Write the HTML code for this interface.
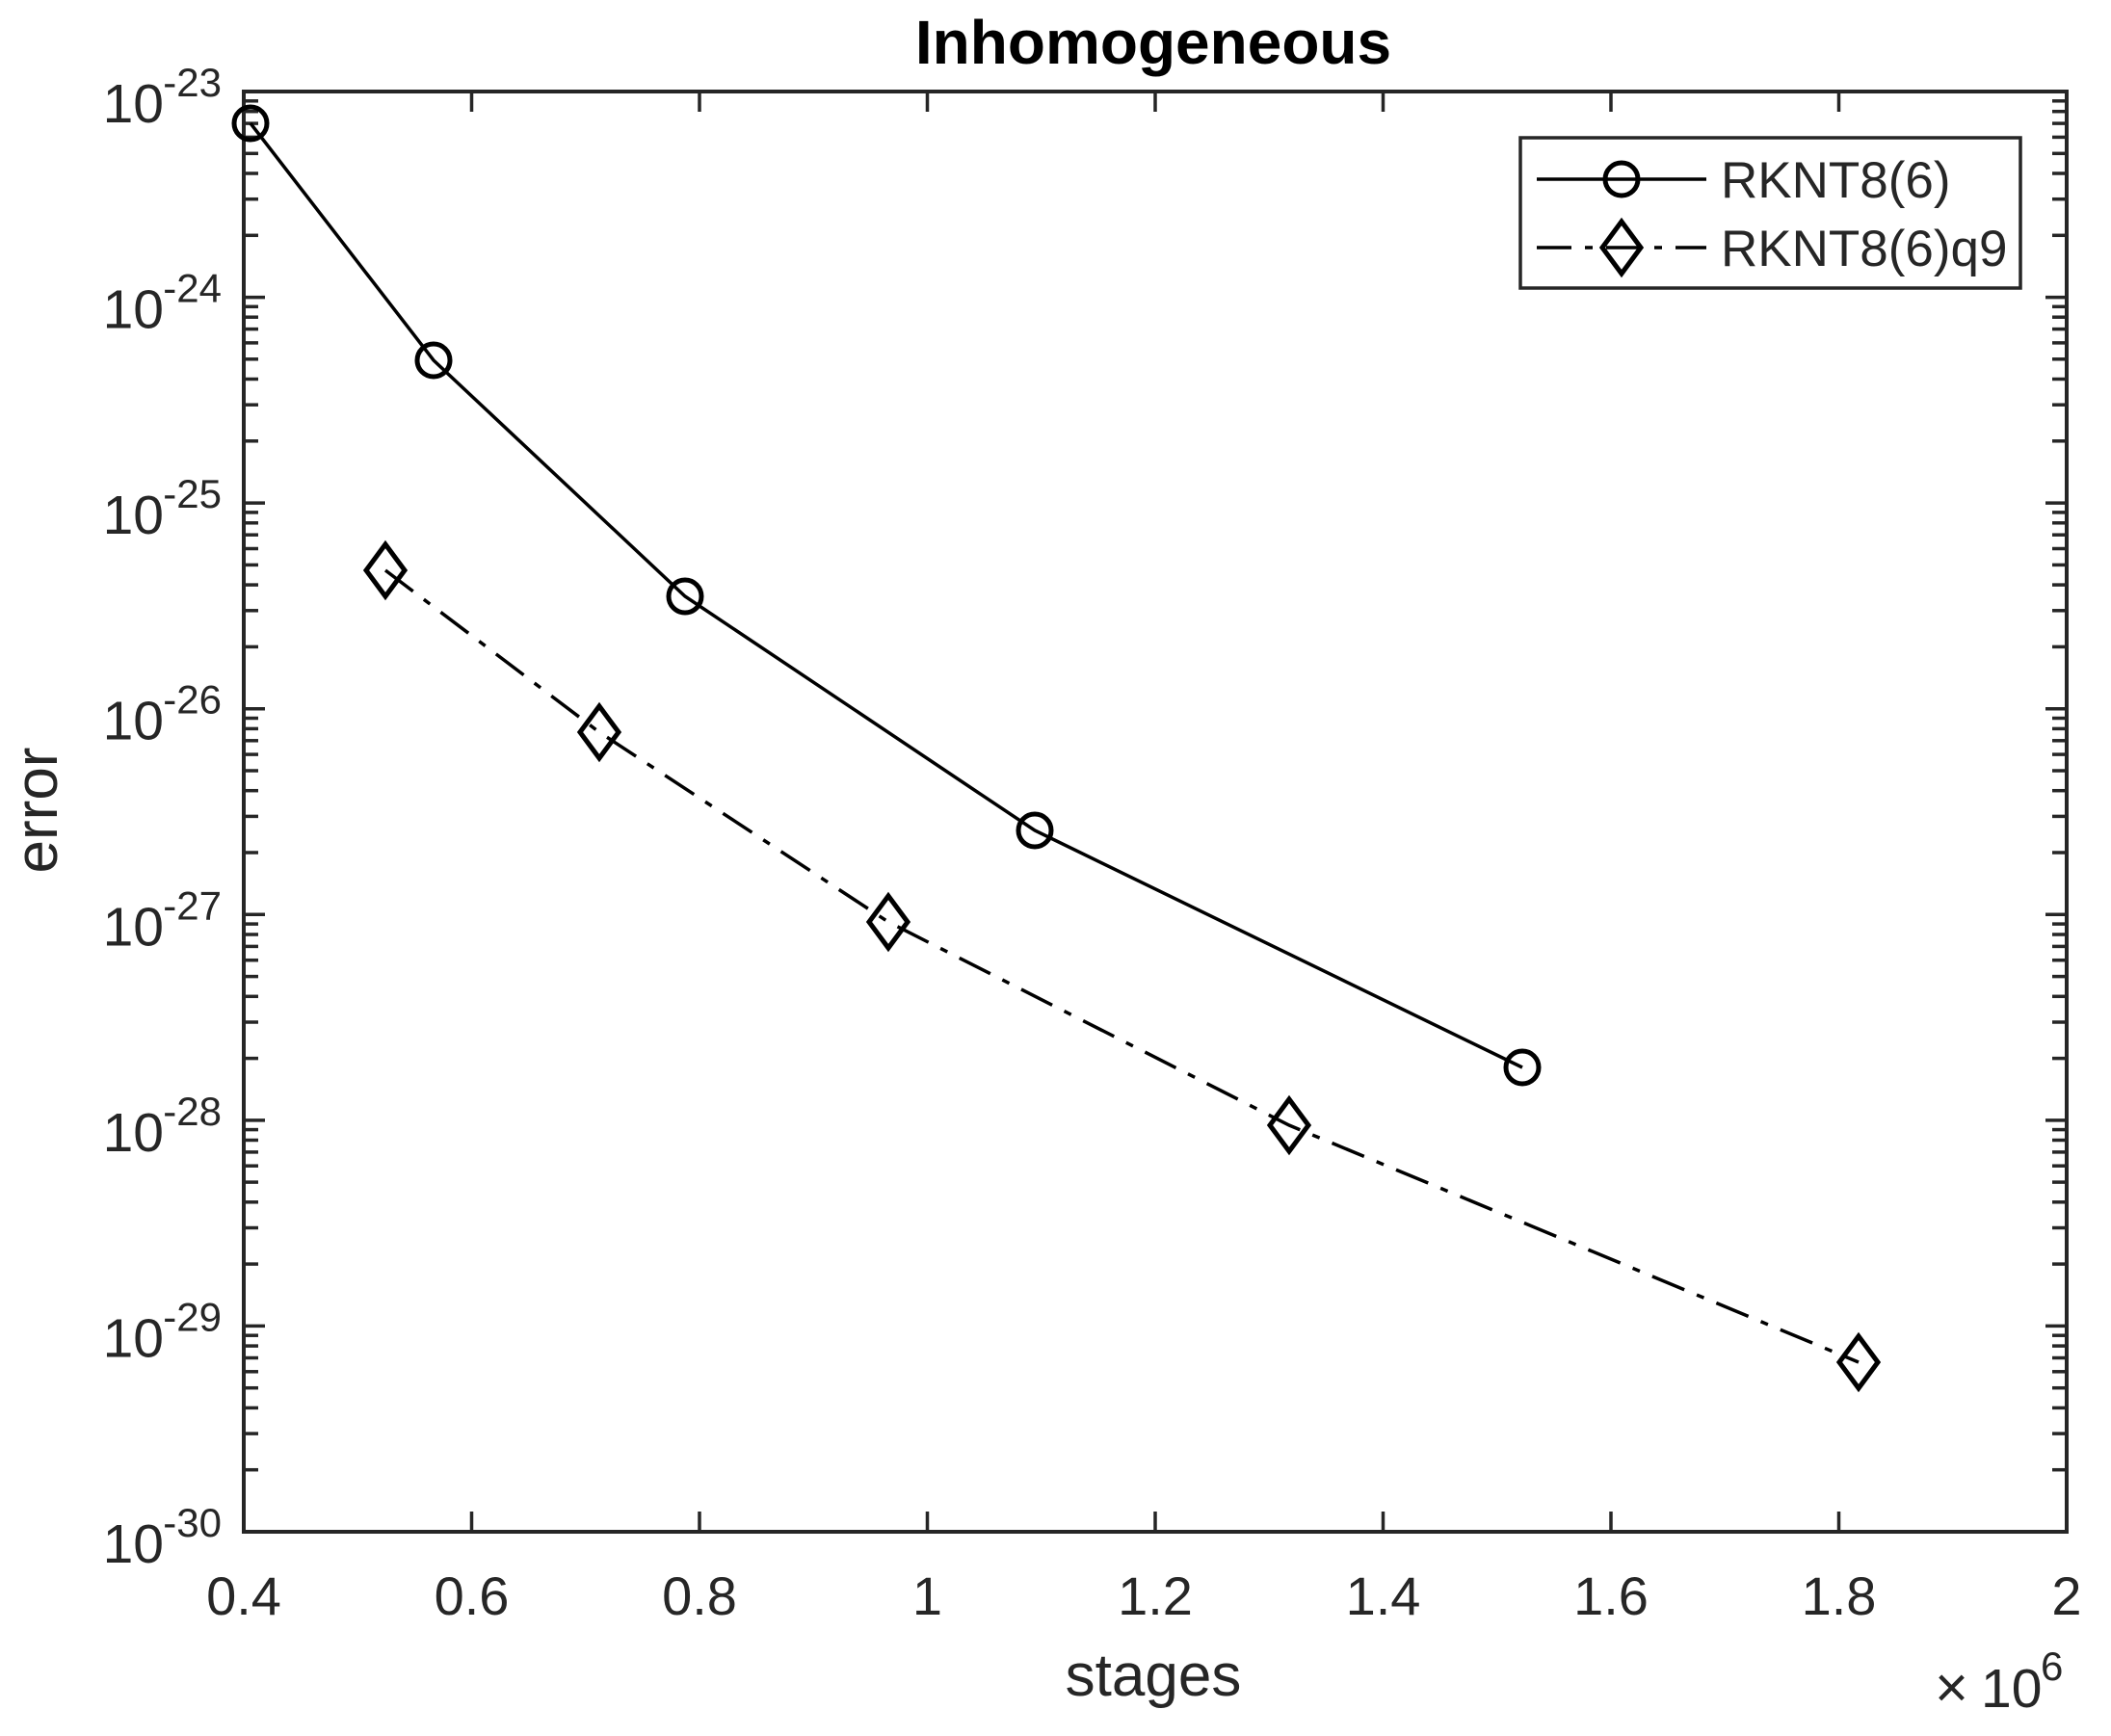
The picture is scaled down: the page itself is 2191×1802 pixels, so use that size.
<!DOCTYPE html>
<html><head><meta charset="utf-8"><style>html,body{margin:0;padding:0;background:#fff}svg{display:block}</style></head>
<body>
<svg width="2191" height="1802" viewBox="0 0 2191 1802" xmlns="http://www.w3.org/2000/svg" font-family="'Liberation Sans', Arial, sans-serif">
<defs>
<g id="mtL" stroke="#262626" stroke-width="3.5">
<line x1="253" x2="268" y1="-64.3" y2="-64.3"/><line x1="253" x2="268" y1="-101.9" y2="-101.9"/>
<line x1="253" x2="268" y1="-128.6" y2="-128.6"/><line x1="253" x2="268" y1="-149.3" y2="-149.3"/>
<line x1="253" x2="268" y1="-166.2" y2="-166.2"/><line x1="253" x2="268" y1="-180.5" y2="-180.5"/>
<line x1="253" x2="268" y1="-192.9" y2="-192.9"/><line x1="253" x2="268" y1="-203.8" y2="-203.8"/>
<line x1="2145" x2="2130" y1="-64.3" y2="-64.3"/><line x1="2145" x2="2130" y1="-101.9" y2="-101.9"/>
<line x1="2145" x2="2130" y1="-128.6" y2="-128.6"/><line x1="2145" x2="2130" y1="-149.3" y2="-149.3"/>
<line x1="2145" x2="2130" y1="-166.2" y2="-166.2"/><line x1="2145" x2="2130" y1="-180.5" y2="-180.5"/>
<line x1="2145" x2="2130" y1="-192.9" y2="-192.9"/><line x1="2145" x2="2130" y1="-203.8" y2="-203.8"/>
<line x1="253" x2="275" y1="0" y2="0"/><line x1="2145" x2="2123" y1="0" y2="0"/>
</g>
</defs>
<rect width="2191" height="1802" fill="#fff"/>
<use href="#mtL" y="1590"/><use href="#mtL" y="1376.4"/><use href="#mtL" y="1162.9"/>
<use href="#mtL" y="949.3"/><use href="#mtL" y="735.7"/><use href="#mtL" y="522.1"/><use href="#mtL" y="308.6"/>
<g stroke="#262626" stroke-width="3.5">
<line x1="253" x2="275" y1="95" y2="95"/><line x1="2145" x2="2123" y1="95" y2="95"/>
<line x1="489.5" x2="489.5" y1="1590" y2="1569"/><line x1="489.5" x2="489.5" y1="95" y2="116"/>
<line x1="726" x2="726" y1="1590" y2="1569"/><line x1="726" x2="726" y1="95" y2="116"/>
<line x1="962.5" x2="962.5" y1="1590" y2="1569"/><line x1="962.5" x2="962.5" y1="95" y2="116"/>
<line x1="1199" x2="1199" y1="1590" y2="1569"/><line x1="1199" x2="1199" y1="95" y2="116"/>
<line x1="1435.5" x2="1435.5" y1="1590" y2="1569"/><line x1="1435.5" x2="1435.5" y1="95" y2="116"/>
<line x1="1672" x2="1672" y1="1590" y2="1569"/><line x1="1672" x2="1672" y1="95" y2="116"/>
<line x1="1908.5" x2="1908.5" y1="1590" y2="1569"/><line x1="1908.5" x2="1908.5" y1="95" y2="116"/>
</g>
<rect x="253" y="95" width="1892" height="1495" fill="none" stroke="#262626" stroke-width="4"/>
<polyline points="260,128 450,374 711,619 1074,862 1580,1108" fill="none" stroke="#000" stroke-width="3.5"/>
<g fill="none" stroke="#000" stroke-width="5">
<circle cx="260" cy="128" r="17"/><circle cx="450" cy="374" r="17"/><circle cx="711" cy="619" r="17"/>
<circle cx="1074" cy="862" r="17"/><circle cx="1580" cy="1108" r="17"/>
</g>
<polyline points="400,592 622,760 922,957 1338,1168 1929,1414" fill="none" stroke="#000" stroke-width="3.5" stroke-dasharray="36 14 8 14"/>
<g fill="none" stroke="#000" stroke-width="5">
<path d="M400,565 L420,592 L400,619 L380,592 Z"/>
<path d="M622,733 L642,760 L622,787 L602,760 Z"/>
<path d="M922,930 L942,957 L922,984 L902,957 Z"/>
<path d="M1338,1141 L1358,1168 L1338,1195 L1318,1168 Z"/>
<path d="M1929,1387 L1949,1414 L1929,1441 L1909,1414 Z"/>
</g>
<rect x="1578" y="143" width="519" height="156" fill="#fff" stroke="#262626" stroke-width="3.5"/>
<line x1="1595" x2="1771" y1="186" y2="186" stroke="#000" stroke-width="3.5"/>
<circle cx="1683" cy="186" r="17" fill="none" stroke="#000" stroke-width="5"/>
<line x1="1595" x2="1771" y1="257" y2="257" stroke="#000" stroke-width="3.5" stroke-dasharray="36 14 8 14"/>
<path d="M1683,230 L1703,257 L1683,284 L1663,257 Z" fill="none" stroke="#000" stroke-width="5"/>
<g fill="#262626" font-size="53">
<text x="1786" y="205">RKNT8(6)</text>
<text x="1786" y="276">RKNT8(6)q9</text>
</g>
<g fill="#262626">
<g font-size="57" text-anchor="end">
<text x="170" y="127">10</text><text x="170" y="340.6">10</text><text x="170" y="554.1">10</text>
<text x="170" y="767.7">10</text><text x="170" y="981.3">10</text><text x="170" y="1194.9">10</text>
<text x="170" y="1408.4">10</text><text x="170" y="1622">10</text>
</g>
<g font-size="42" text-anchor="end">
<text x="230" y="100">-23</text><text x="230" y="313.6">-24</text><text x="230" y="527.1">-25</text>
<text x="230" y="740.7">-26</text><text x="230" y="954.3">-27</text><text x="230" y="1167.9">-28</text>
<text x="230" y="1381.4">-29</text><text x="230" y="1595">-30</text>
</g>
<g font-size="56" text-anchor="middle">
<text x="253" y="1676">0.4</text><text x="489.5" y="1676">0.6</text><text x="726" y="1676">0.8</text>
<text x="962.5" y="1676">1</text><text x="1199" y="1676">1.2</text><text x="1435.5" y="1676">1.4</text>
<text x="1672" y="1676">1.6</text><text x="1908.5" y="1676">1.8</text><text x="2145" y="1676">2</text>
</g>
<text x="2008" y="1772" font-size="60">×</text>
<text x="2056" y="1772" font-size="57">10</text>
<text x="2118" y="1744" font-size="42">6</text>
<text x="1197" y="1760" font-size="62" text-anchor="middle">stages</text>
<text transform="translate(59,841) rotate(-90)" font-size="62" text-anchor="middle">error</text>
</g>
<text x="1197" y="66" font-size="64" font-weight="bold" text-anchor="middle" fill="#000">Inhomogeneous</text>
</svg>
</body></html>
